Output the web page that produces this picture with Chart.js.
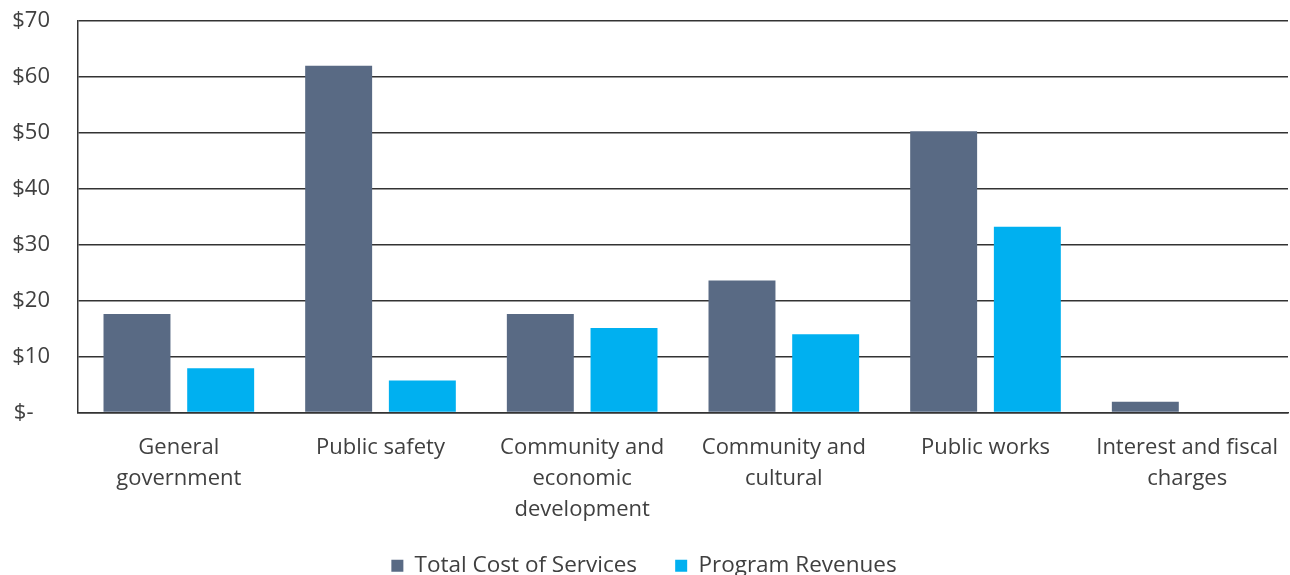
<!DOCTYPE html>
<html>
<head>
<meta charset="utf-8">
<script src="https://cdn.jsdelivr.net/npm/chart.js@4"></script>
<style>
  html, body { margin: 0; padding: 0; background: #fff; }
  #wrap { width: 1290px; height: 575px; }
</style>
</head>
<body>
<div id="wrap"><canvas id="chart" width="1290" height="575"></canvas></div>
<script>
  const categories = [
    ["General", "government"],
    ["Public safety"],
    ["Community and", "economic", "development"],
    ["Community and", "cultural"],
    ["Public works"],
    ["Interest and fiscal", "charges"],
  ];
  const totalCost = [17.6, 62.0, 17.6, 23.6, 50.3, 1.9];
  const programRevenues = [7.9, 5.7, 15.1, 14.0, 33.2, 0];
  const yTicks = [0, 10, 20, 30, 40, 50, 60, 70];

  const textColor = "#404040";
  const fontFamily = "'Open Sans', Lato, sans-serif";

  new Chart(document.getElementById("chart"), {
    type: "bar",
    data: {
      labels: categories,
      datasets: [
        {
          label: "Total Cost of Services",
          data: totalCost,
          backgroundColor: "#596A84",
          categoryPercentage: 0.83,
          barPercentage: 0.8,
        },
        {
          label: "Program Revenues",
          data: programRevenues,
          backgroundColor: "#00B0F0",
          categoryPercentage: 0.83,
          barPercentage: 0.8,
        },
      ],
    },
    options: {
      responsive: false,
      animation: false,
      layout: { padding: { top: 21, right: 2, left: 0, bottom: -12 } },
      plugins: {
        tooltip: { enabled: false },
        legend: {
          position: "bottom",
          labels: {
            boxWidth: 12,
            boxHeight: 12,
            padding: 10,
            color: textColor,
            font: { family: fontFamily, size: 22.5 },
            // wider gap after the first item, like the original legend
            generateLabels: (chart) =>
              Chart.defaults.plugins.legend.labels.generateLabels(chart).map((l, i) =>
                i === 0 ? { ...l, text: l.text + "\u2003\u2005" } : l),
          },
        },
      },
      scales: {
        x: {
          grid: { display: false, drawTicks: false },
          border: { color: "#333", width: 1.5 },
          ticks: {
            color: textColor,
            padding: 20,
            maxRotation: 0,
            autoSkip: false,
            font: { family: fontFamily, size: 22, lineHeight: 1.41 },
          },
          afterFit: (s) => {
            s.height = 132;
            s.paddingLeft = 0;
            s.paddingRight = 0;
          },
        },
        y: {
          min: 0,
          max: 70,
          afterBuildTicks: (s) => { s.ticks = yTicks.map((v) => ({ value: v })); },
          grid: { color: "#333", lineWidth: 1.5, drawTicks: false },
          border: { color: "#333", width: 1.5 },
          ticks: {
            color: textColor,
            padding: 28,
            font: { family: fontFamily, size: 22 },
            callback: (v) => (v === 0 ? "$-\u2002\u2005" : "$" + v),
          },
          afterFit: (s) => {
            s.width = 78;
            s.paddingTop = 10;
            s.paddingBottom = 10;
          },
        },
      },
    },
  });
</script>
</body>
</html>
